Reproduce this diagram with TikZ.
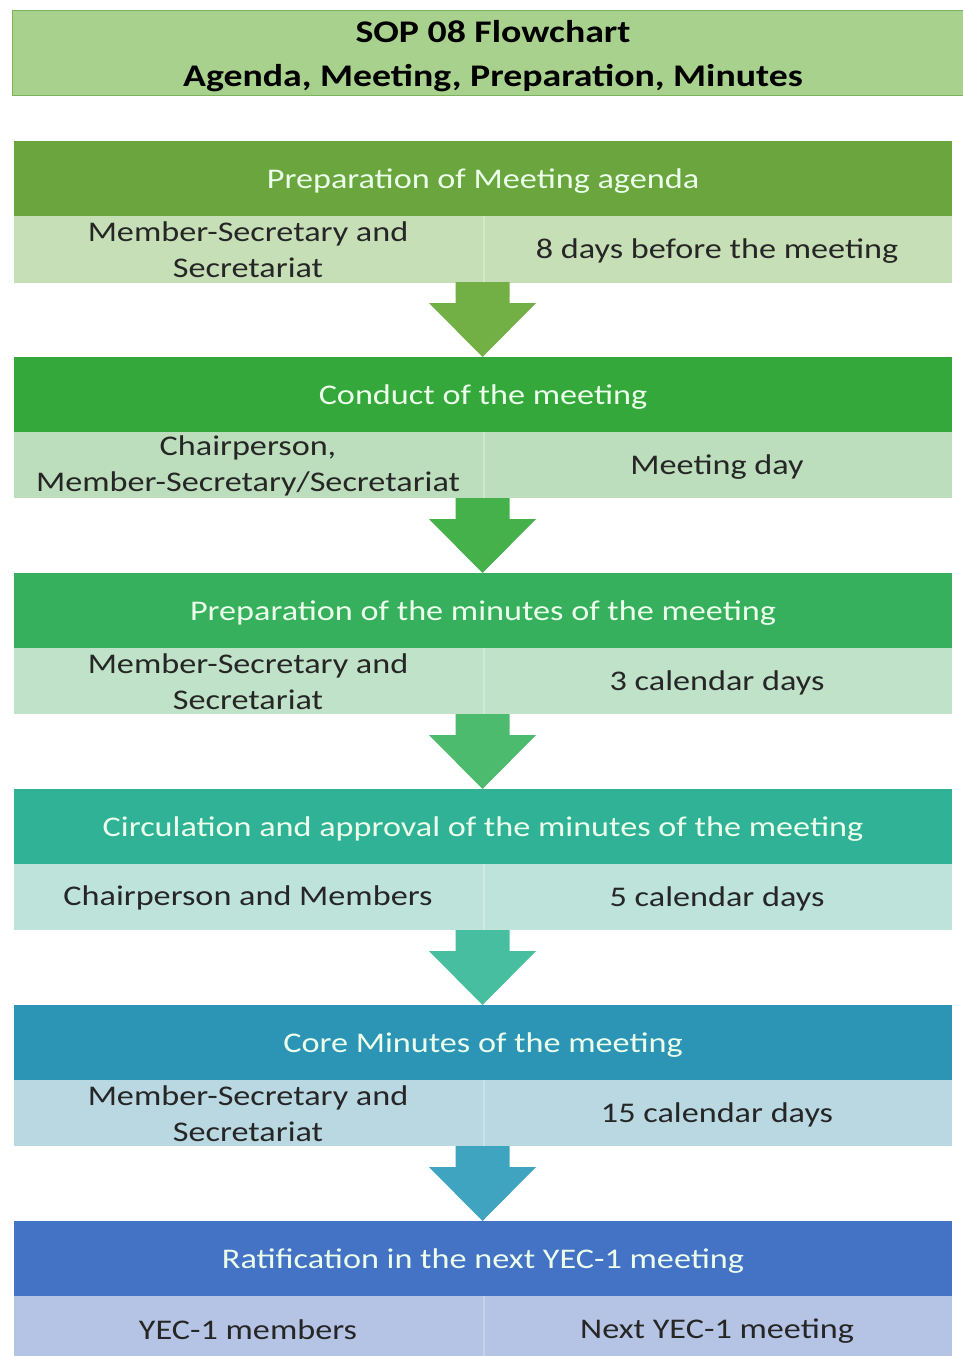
\documentclass[tikz,border=0pt]{standalone}
\usepackage{fontspec}
\setmainfont[FakeStretch=1.2]{Carlito}
\definecolor{titlefill}{HTML}{A9D18E}
\definecolor{titleline}{HTML}{7DB35A}
\definecolor{hA}{HTML}{6AA63D}\definecolor{lA}{HTML}{C7DFB7}\definecolor{aA}{HTML}{72B046}
\definecolor{hB}{HTML}{35A83C}\definecolor{lB}{HTML}{BDDEBD}\definecolor{aB}{HTML}{45B14A}
\definecolor{hC}{HTML}{36B05C}\definecolor{lC}{HTML}{BFE2C9}\definecolor{aC}{HTML}{4DBB6D}
\definecolor{hD}{HTML}{30B296}\definecolor{lD}{HTML}{BDE3DB}\definecolor{aD}{HTML}{47BEA0}
\definecolor{hE}{HTML}{2C95B6}\definecolor{lE}{HTML}{B9D8E2}\definecolor{aE}{HTML}{3FA4C0}
\definecolor{hF}{HTML}{4472C4}\definecolor{lF}{HTML}{B5C4E4}
\tikzset{
  titlebox/.style={fill=titlefill,draw=titleline,line width=0.8pt},
  headtext/.style={text=white!92!green,font=\fontsize{28.5}{34}\selectfont,anchor=center},
  celltext/.style={text=black!85,font=\fontsize{28.5}{36}\selectfont,align=center,anchor=center},
  divider/.style={draw=white,opacity=0.25,line width=2.5pt}
}
\begin{document}
\begin{tikzpicture}[x=1pt,y=-1pt]
\useasboundingbox (0,0) rectangle (962,1356);
\fill[white] (0,0) rectangle (962,1356);
% title
\draw[titlebox] (12,10) rectangle (963,95);
\node[font=\bfseries\fontsize{31.5}{44}\selectfont,align=center] (title) at (493,56)
  {SOP 08 Flowchart\\Agenda, Meeting, Preparation, Minutes};
% blocks: #1 top, #2 header colour, #3 lower colour, #4 name, #5 header text, #6 left text, #7 right text, #8 lower height
\newcommand{\stage}[8]{%
  \fill[#3] (14,#1+75) rectangle (952,#1+#8);
  \draw[divider] (484,#1+75) -- (484,#1+#8);
  \fill[#2] (14,#1) rectangle (952,#1+75);
  \node[headtext] (#4h) at (483,#1+40) {#5};
  \node[celltext] (#4l) at (248,#1+109) {#6};
  \node[celltext] (#4r) at (717,#1+110) {#7};
  \coordinate (#4b) at (482.5,#1+141);
}
\stage{141}{hA}{lA}{s1}{Preparation of Meeting agenda}{Member-Secretary and\\Secretariat}{8 days before the meeting}{142}
\stage{357}{hB}{lB}{s2}{Conduct of the meeting}{Chairperson,\\Member-Secretary/Secretariat}{Meeting day}{141}
\stage{573}{hC}{lC}{s3}{Preparation of the minutes of the meeting}{Member-Secretary and\\Secretariat}{3 calendar days}{141}
\stage{789}{hD}{lD}{s4}{Circulation and approval of the minutes of the meeting}{Chairperson and Members}{5 calendar days}{141}
\stage{1005}{hE}{lE}{s5}{Core Minutes of the meeting}{Member-Secretary and\\Secretariat}{15 calendar days}{141}
\stage{1221}{hF}{lF}{s6}{Ratification in the next YEC-1 meeting}{YEC-1 members}{Next YEC-1 meeting}{141}
\coordinate (t2) at (482.5,357);
\coordinate (t3) at (482.5,573);
\coordinate (t4) at (482.5,789);
\coordinate (t5) at (482.5,1005);
\coordinate (t6) at (482.5,1221);
\foreach \a/\b/\c in {s1b/t2/aA,s2b/t3/aB,s3b/t4/aC,s4b/t5/aD,s5b/t6/aE}{
  \fill[\c] ([xshift=-27pt]\a) -- ([xshift=-27pt,yshift=-21pt]\a) -- ([xshift=-53.5pt,yshift=-21pt]\a)
     -- (\b) -- ([xshift=53.5pt,yshift=-21pt]\a) -- ([xshift=27pt,yshift=-21pt]\a) -- ([xshift=27pt]\a) -- cycle;
}
\end{tikzpicture}
\end{document}
